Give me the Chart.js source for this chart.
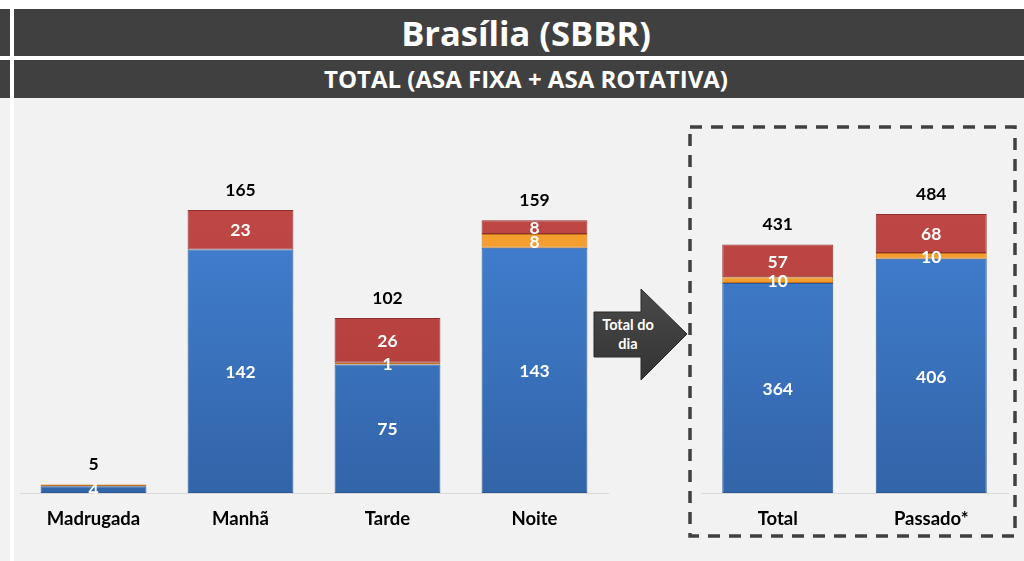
<!DOCTYPE html>
<html><head><meta charset="utf-8">
<script src="https://cdn.jsdelivr.net/npm/chart.js@4.4.1/dist/chart.umd.min.js"></script>
<style>
html,body{margin:0;padding:0;width:1024px;height:561px;overflow:hidden;background:#fff;}
.box{position:absolute;}
.dark{background:#404040;}
.gray{background:#f2f2f2;}
.ttl{position:absolute;color:#fff;font-family:"Open Sans",sans-serif;font-weight:bold;text-align:center;white-space:nowrap;}
</style></head>
<body>
<div class="box dark" style="left:0;top:9px;width:10px;height:47px"></div>
<div class="box dark" style="left:14px;top:9px;width:1010px;height:47px"></div>
<div class="box dark" style="left:0;top:60px;width:10px;height:38px"></div>
<div class="box dark" style="left:14px;top:60px;width:1010px;height:38px"></div>
<div class="box gray" style="left:0;top:98px;width:10px;height:463px"></div>
<div class="box gray" style="left:14px;top:98px;width:1010px;height:463px"></div>
<div class="ttl" style="left:26px;top:9px;width:1000px;height:47px;line-height:47px;font-size:34.5px;">Brasília (SBBR)</div>
<div class="ttl" style="left:26px;top:60px;width:1000px;height:38px;line-height:38px;font-size:24px;">TOTAL (ASA FIXA + ASA ROTATIVA)</div>

<svg class="box" style="left:0;top:0" width="1024" height="561">
  <defs>
    <linearGradient id="ag" x1="0" y1="0" x2="0" y2="1">
      <stop offset="0" stop-color="#4a4a4a"/>
      <stop offset="1" stop-color="#333333"/>
    </linearGradient>
  </defs>
  <rect x="690" y="127" width="325" height="409" fill="none" stroke="#404040" stroke-width="3.5" stroke-dasharray="12 9"/>
  <polygon points="594,312 641,312 641,289 687,334 641,380 641,357 594,357" fill="url(#ag)" stroke="#2a2a2a" stroke-width="1"/>
  <text x="628" y="330" fill="#fff" font-family="Lato, sans-serif" font-weight="bold" font-size="14.5" text-anchor="middle">Total do</text>
  <text x="628" y="349" fill="#fff" font-family="Lato, sans-serif" font-weight="bold" font-size="14.5" text-anchor="middle">dia</text>
</svg>

<div class="box" style="left:0;top:100px;width:620px;height:461px"><canvas id="c1" width="620" height="461"></canvas></div>
<div class="box" style="left:690px;top:100px;width:330px;height:461px"><canvas id="c2" width="330" height="461"></canvas></div>

<script>
const leftCategories = ['Madrugada', 'Manhã', 'Tarde', 'Noite'];
const leftBlue = [4, 142, 75, 143];
const leftOrange = [1, 0, 1, 8];
const leftRed = [0, 23, 26, 8];

const rightCategories = ['Total', 'Passado*'];
const rightBlue = [364, 406];
const rightOrange = [10, 10];
const rightRed = [57, 68];

const FONT = 'Lato, sans-serif';

function grad(top, bottom, fallback) {
  return function (ctx) {
    const ch = ctx.chart;
    if (!ch.chartArea) return fallback;
    const g = ch.ctx.createLinearGradient(0, ch.chartArea.top, 0, ch.chartArea.bottom);
    g.addColorStop(0, top);
    g.addColorStop(1, bottom);
    return g;
  };
}

const labelPlugin = {
  id: 'stackLabels',
  afterDatasetsDraw(chart) {
    const c = chart.ctx;
    c.save();
    c.textAlign = 'center';
    c.textBaseline = 'middle';
    const n = chart.data.labels.length;
    for (let i = 0; i < n; i++) {
      let total = 0;
      chart.data.datasets.forEach(d => total += d.data[i]);
      let topY = null, x = null;
      chart.data.datasets.forEach((d, di) => {
        const el = chart.getDatasetMeta(di).data[i];
        const v = d.data[i];
        if (v > 0) {
          x = el.x;
          topY = topY === null ? el.y : Math.min(topY, el.y);
          if (!(total < 10 && di > 0)) {
            c.font = 'bold 17.5px ' + FONT;
            c.fillStyle = '#ffffff';
            c.fillText(String(v), el.x, (el.y + el.base) / 2 + 1);
          }
        }
      });
      c.font = 'bold 17.5px ' + FONT;
      c.fillStyle = '#000000';
      c.fillText(String(total), x, topY - 20);
    }
    c.restore();
  }
};

function makeChart(id, labels, blue, orange, red, yMax, pad, barPct) {
  const ds = (label, data, bg, border) => ({
    label, data, backgroundColor: bg, borderColor: border, borderWidth: 1,
    barPercentage: barPct, categoryPercentage: 1.0, borderSkipped: false
  });
  return new Chart(document.getElementById(id), {
    type: 'bar',
    data: {
      labels,
      datasets: [
        ds('Azul', blue, grad('#4586da', '#3264a8', '#3d77c4'), '#2d5a96'),
        ds('Laranja', orange, grad('#f7a435', '#ee8f22', '#f39a2b'), '#c4701a'),
        ds('Vermelho', red, grad('#c24a47', '#ad3b38', '#b8423f'), '#8e302e')
      ]
    },
    options: {
      responsive: false,
      animation: false,
      layout: { padding: pad },
      plugins: { legend: { display: false }, tooltip: { enabled: false } },
      scales: {
        x: {
          stacked: true,
          grid: { display: false, drawTicks: false },
          border: { display: true, color: '#d9d9d9', width: 1 },
          ticks: { color: '#000', font: { family: FONT, weight: 'bold', size: 18.5 }, padding: 15 },
          afterFit: s => { s.height = 68; }
        },
        y: { stacked: true, display: false, min: 0, max: yMax }
      }
    },
    plugins: [labelPlugin]
  });
}

makeChart('c1', leftCategories, leftBlue, leftOrange, leftRed, 200, { left: 20, right: 12, top: 50, bottom: 0 }, 0.72);
makeChart('c2', rightCategories, rightBlue, rightOrange, rightRed, 600, { left: 11, right: 12, top: 47, bottom: 0 }, 0.723);
</script>
</body></html>
